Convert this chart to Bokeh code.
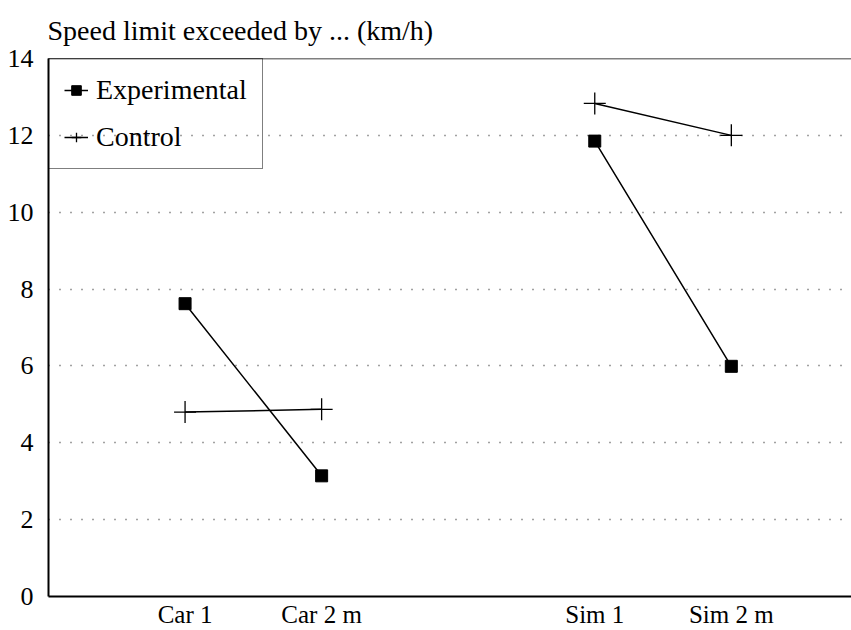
import math
from bokeh.plotting import figure
from bokeh.models import FixedTicker, Span
from bokeh.embed import file_html
from bokeh.resources import INLINE

# ---- data ----
categories = ["Car 1", "Car 2 m", "Sim 1", "Sim 2 m"]
groups = ["Car", "Car", "Sim", "Sim"]
experimental = [7.62, 3.14, 11.85, 5.99]
control = [4.80, 4.87, 12.83, 12.00]
y_ticks = [0, 2, 4, 6, 8, 10, 12, 14]
grid_ticks = [2, 4, 6, 8, 10, 12]
title_text = "Speed limit exceeded by ... (km/h)"

# x slot of each category: one empty slot between groups
xpos = []
gap = 0
for i, g in enumerate(groups):
    if i > 0 and g != groups[i - 1]:
        gap += 1
    xpos.append(i + 1 + gap)


def broken(xs, ys):
    """Insert NaN between groups so lines are not joined across groups."""
    bx, by = [], []
    for i in range(len(xs)):
        if i > 0 and groups[i] != groups[i - 1]:
            bx.append(math.nan)
            by.append(math.nan)
        bx.append(xs[i])
        by.append(ys[i])
    return bx, by


FONT = "Liberation Serif"

p = figure(width=851, height=630, output_backend="svg", toolbar_location=None,
           x_range=(0.0, 5.88), y_range=(0, 14),
           min_border_left=48, min_border_right=0, min_border_top=58,
           min_border_bottom=30)

p.title.text = title_text
p.title.text_font = FONT
p.title.text_font_size = "28px"
p.title.text_font_style = "normal"
p.title.align = "left"
p.title.offset = -1
p.title.standoff = 25
p.title.text_color = "black"

p.outline_line_color = None
p.background_fill_color = "white"
p.border_fill_color = "white"

# grid
p.xgrid.grid_line_color = None
p.ygrid.ticker = FixedTicker(ticks=grid_ticks)
p.ygrid.grid_line_color = "#444444"
p.ygrid.grid_line_dash = "1 10"
p.ygrid.grid_line_width = 1.3

# axes
p.yaxis.ticker = FixedTicker(ticks=y_ticks)
p.xaxis.ticker = FixedTicker(ticks=xpos)
p.xaxis.major_label_overrides = {x: c for x, c in zip(xpos, categories)}
for ax in (p.xaxis, p.yaxis):
    ax.major_tick_line_color = None
    ax.minor_tick_line_color = None
    ax.axis_line_color = "black"
    ax.axis_line_width = 2
    ax.major_label_text_font = FONT
    ax.major_label_text_font_size = "25px"
    ax.major_label_text_color = "black"
p.yaxis.major_label_text_font_size = "26px"
p.yaxis.major_label_standoff = 9
p.xaxis.major_label_standoff = -2

# top border line
p.add_layout(Span(location=14, dimension="width", line_color="black", line_width=1.5))

# series
ex, ey = broken(xpos, experimental)
cx, cy = broken(xpos, control)
p.line(ex, ey, line_color="black", line_width=1.5, legend_label="Experimental")
p.scatter(xpos, experimental, marker="square", size=12, fill_color="black",
          line_color="black", legend_label="Experimental")
p.line(cx, cy, line_color="black", line_width=1.5, legend_label="Control")
p.scatter(xpos, control, marker="cross", size=22, line_color="black",
          line_width=1.3, legend_label="Control")

lg = p.legend[0]
lg.location = "top_left"
lg.margin = 0
lg.padding = 15
lg.spacing = 15
lg.glyph_width = 24
lg.glyph_height = 32
lg.label_height = 32
lg.label_standoff = 8
lg.label_text_font = FONT
lg.label_text_font_size = "28px"
lg.label_text_color = "black"
lg.border_line_color = "black"
lg.border_line_width = 1.5
lg.background_fill_alpha = 0

open("out.html", "w").write(file_html(p, INLINE))
